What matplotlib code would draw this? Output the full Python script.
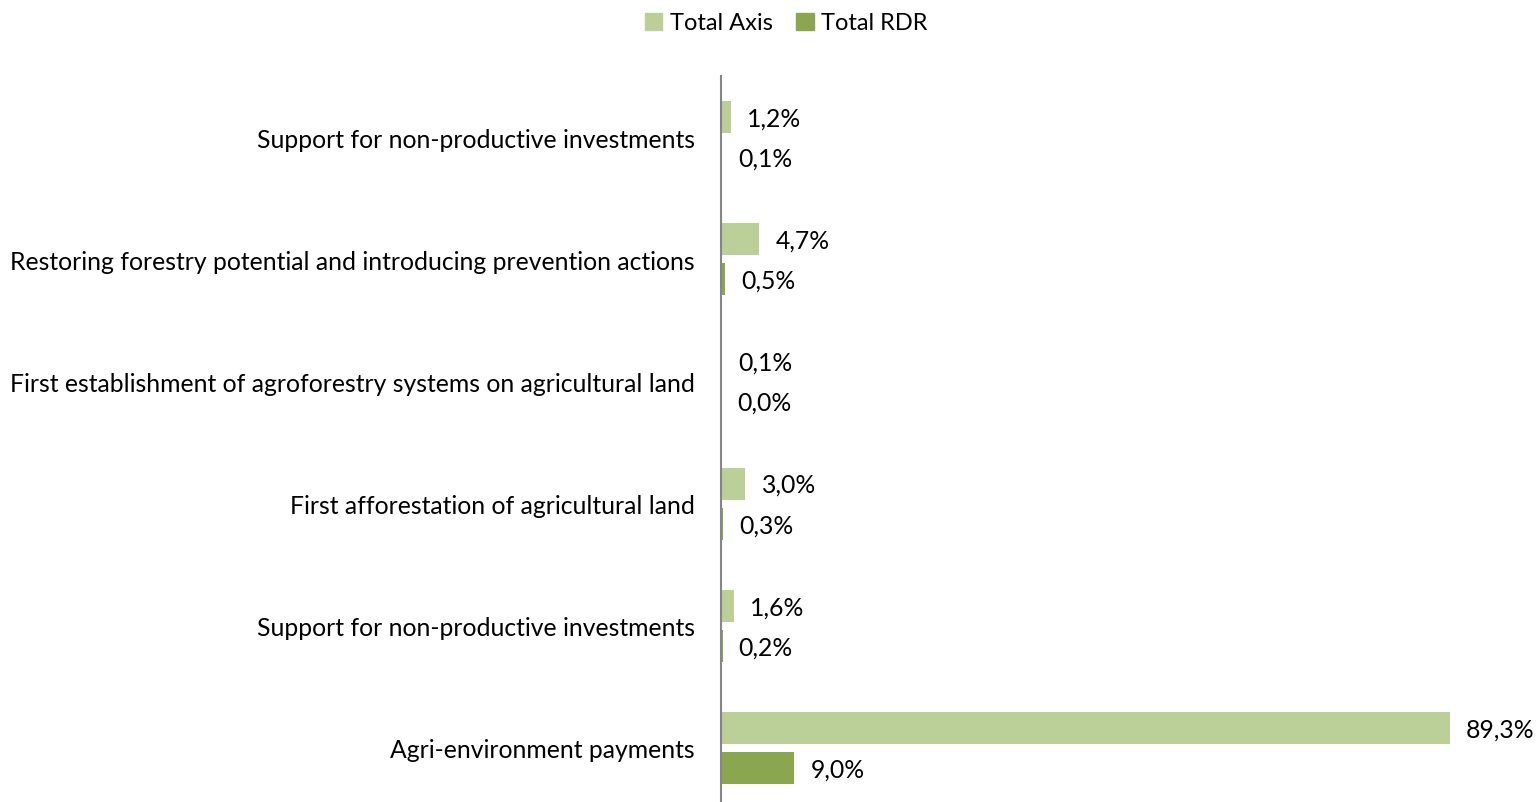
import matplotlib
matplotlib.use("Agg")
import matplotlib.pyplot as plt
from matplotlib.patches import Patch
from matplotlib.transforms import offset_copy
import numpy as np

categories = [
    "Support for non-productive investments",
    "Restoring forestry potential and introducing prevention actions",
    "First establishment of agroforestry systems on agricultural land",
    "First afforestation of agricultural land",
    "Support for non-productive investments",
    "Agri-environment payments",
]
total_axis = [1.2, 4.7, 0.1, 3.0, 1.6, 89.3]
total_rdr = [0.1, 0.5, 0.0, 0.3, 0.2, 9.0]
series_names = ["Total Axis", "Total RDR"]
colors = ["#BBCF98", "#8AA64E"]

plt.rcParams['font.family'] = ['Lato', 'DejaVu Sans']

W, H = 1537, 803
fig = plt.figure(figsize=(W / 100, H / 100), dpi=100)
ax_left, ax_right = 721, 1500
y_top, y_bot = 77, 810
ax = fig.add_axes([ax_left / W, 1 - y_bot / H, (ax_right - ax_left) / W, (y_bot - y_top) / H])

n = len(categories)
y = np.arange(n)
bh = 32 / 122
gap = 8 / 122
ax.barh(y - (bh + gap) / 2, total_axis, height=bh, color=colors[0])
ax.barh(y + (bh + gap) / 2, total_rdr, height=bh, color=colors[1])

fs = 17.8
ax.set_ylim(n - 0.5, -0.5)
ax.set_xlim(0, (ax_right - ax_left) / 8.16)
ax.set_yticks(y)
ax.set_yticklabels(categories, fontsize=fs)
ax.tick_params(axis='y', length=0, pad=19)
ax.set_xticks([])
for s in ["top", "right", "bottom"]:
    ax.spines[s].set_visible(False)
ax.spines["left"].set_color("#868686")
ax.spines["left"].set_linewidth(1.5)

toff = offset_copy(ax.transData, fig=fig, x=16, y=-1, units='dots')
for i in range(n):
    ax.text(total_axis[i], y[i] - (bh + gap) / 2, f"{total_axis[i]:.1f}%".replace(".", ","),
            transform=toff, va='center', ha='left', fontsize=fs)
    ax.text(total_rdr[i], y[i] + (bh + gap) / 2, f"{total_rdr[i]:.1f}%".replace(".", ","),
            transform=toff, va='center', ha='left', fontsize=fs)

handles = [Patch(color=c) for c in colors]
fig.legend(handles, series_names, loc='center', bbox_to_anchor=(786 / W, 1 - 24 / H),
           ncol=2, frameon=False, fontsize=17, handlelength=0.75, handleheight=0.75,
           handletextpad=0.3, columnspacing=1.0)

fig.savefig("out.png", dpi=100)
